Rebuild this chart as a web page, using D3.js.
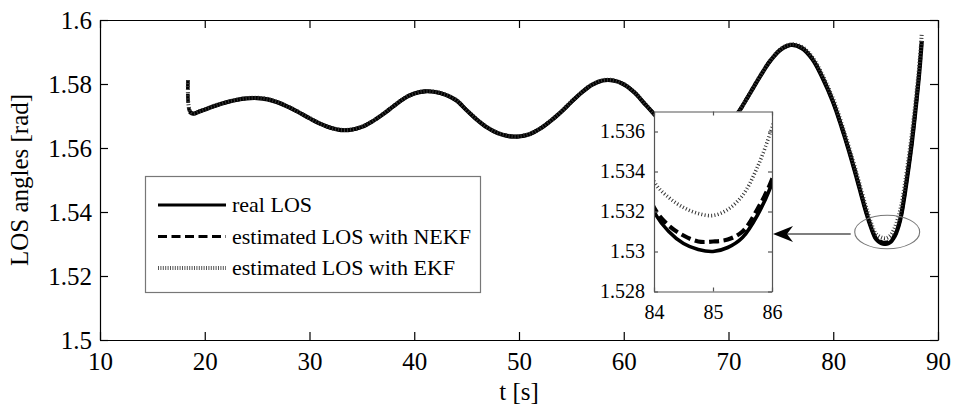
<!DOCTYPE html>
<html>
<head>
<meta charset="utf-8">
<script src="https://cdn.jsdelivr.net/npm/d3@7"></script>
<style>
  html, body { margin: 0; padding: 0; background: #fff; }
  svg text { font-family: "Liberation Serif", "Times New Roman", serif; fill: #000; }
</style>
</head>
<body>
<svg id="chart" width="954" height="412"></svg>
<script>
// Sample times [s]
const timeSec = [18.4, 18.55, 18.9, 19.5, 20, 21, 22, 23, 24, 25, 26, 27, 28, 29,
  30, 31, 32, 33, 34, 35, 36, 37, 38, 39, 40, 41, 42, 43, 44, 45, 46, 47, 48, 49,
  50, 51, 52, 53, 54, 55, 56, 57, 58, 59, 60, 61, 62, 63, 64, 65, 66, 67, 68, 69,
  70, 71, 72, 73, 74, 75, 76, 77, 78, 79, 80, 81, 82, 83, 83.5,
  84, 84.25, 84.5, 84.75, 85, 85.25, 85.5, 85.75, 86, 86.25, 86.5, 86.75, 87, 87.5,
  88, 88.25, 88.45];

// Real line-of-sight angle [rad]
const realLOS = [null, 1.5713, 1.5707, 1.5714, 1.5720, 1.5732, 1.5742, 1.5750, 1.5755, 1.5756,
  1.5752, 1.5742, 1.5728, 1.5711, 1.5693, 1.5676, 1.5663, 1.5656, 1.5657, 1.5666,
  1.5683, 1.5705, 1.5730, 1.5754, 1.5770, 1.5777, 1.5775, 1.5766, 1.5749, 1.5718,
  1.5688, 1.5663, 1.5646, 1.5637, 1.5636, 1.5643, 1.5660, 1.5684, 1.5712, 1.5744,
  1.5774, 1.5798, 1.5811, 1.5811, 1.5799, 1.5774, 1.5738, 1.5702, 1.5660, 1.5626,
  1.5603, 1.5596, 1.5606, 1.5632, 1.5670, 1.5714, 1.5768, 1.5823, 1.5873, 1.5908,
  1.5922, 1.5912, 1.5878, 1.5818, 1.5742, 1.5645, 1.5535, 1.5415, 1.5362,
  1.5320, 1.5310, 1.5304, 1.5301, 1.5300, 1.5302, 1.5307, 1.5318, 1.5334, 1.5358,
  1.5392, 1.5440, 1.5495, 1.5616, 1.5765, 1.5850, 1.5935];

// Estimate from the NEKF [rad]
const nekfLOS = [1.5812, 1.5716, 1.5708, 1.5715, 1.5720, 1.5732, 1.5742, 1.5750, 1.5755, 1.5756,
  1.5752, 1.5742, 1.5728, 1.5711, 1.5693, 1.5676, 1.5663, 1.5656, 1.5657, 1.5666,
  1.5683, 1.5705, 1.5730, 1.5754, 1.5770, 1.5777, 1.5775, 1.5766, 1.5749, 1.5718,
  1.5688, 1.5663, 1.5646, 1.5637, 1.5636, 1.5643, 1.5660, 1.5684, 1.5712, 1.5744,
  1.5774, 1.5798, 1.5811, 1.5811, 1.5799, 1.5774, 1.5738, 1.5702, 1.5660, 1.5626,
  1.5603, 1.5596, 1.5606, 1.5632, 1.5670, 1.5714, 1.5768, 1.5823, 1.5873, 1.5908,
  1.5922, 1.5913, 1.5879, 1.5819, 1.5743, 1.5646, 1.5537, 1.5417, 1.5364,
  1.5322, 1.5313, 1.5308, 1.5305, 1.5305, 1.5306, 1.5310, 1.5321, 1.5336, 1.5360,
  1.5394, 1.5442, 1.5497, 1.5618, 1.5767, 1.5852, 1.5938];

// Estimate from the EKF [rad]
const ekfLOS = [1.5812, 1.5718, 1.5708, 1.5715, 1.5721, 1.5733, 1.5743, 1.5751, 1.5756, 1.5757,
  1.5753, 1.5743, 1.5729, 1.5712, 1.5694, 1.5677, 1.5664, 1.5657, 1.5658, 1.5667,
  1.5684, 1.5706, 1.5731, 1.5755, 1.5771, 1.5778, 1.5776, 1.5767, 1.5750, 1.5719,
  1.5689, 1.5664, 1.5647, 1.5638, 1.5637, 1.5644, 1.5661, 1.5685, 1.5713, 1.5745,
  1.5775, 1.5799, 1.5812, 1.5812, 1.5800, 1.5775, 1.5739, 1.5703, 1.5661, 1.5627,
  1.5604, 1.5597, 1.5607, 1.5633, 1.5671, 1.5715, 1.5769, 1.5824, 1.5874, 1.5910,
  1.5924, 1.5916, 1.5884, 1.5826, 1.5752, 1.5656, 1.5548, 1.5430, 1.5377,
  1.5335, 1.5327, 1.5322, 1.5319, 1.5318, 1.5321, 1.5328, 1.5342, 1.5362, 1.5388,
  1.5422, 1.5469, 1.5524, 1.5644, 1.5790, 1.5872, 1.5957];

const seriesNames = ["real LOS", "estimated LOS with NEKF", "estimated LOS with EKF"];

// Tick values
const xTicks = [10, 20, 30, 40, 50, 60, 70, 80, 90];
const yTicks = [1.5, 1.52, 1.54, 1.56, 1.58, 1.6];
const insetXTicks = [84, 85, 86];
const insetYTicks = [1.528, 1.53, 1.532, 1.534, 1.536];

const xLabel = "t [s]";
const yLabel = "LOS angles [rad]";

// ---------------------------------------------------------------
const svg = d3.select("#chart");
const M = { left: 100, right: 938, top: 20, bottom: 340 };
const IN = { left: 654, right: 772, top: 111.5, bottom: 291.5 };

const x = d3.scaleLinear().domain([10, 90]).range([M.left, M.right]);
const y = d3.scaleLinear().domain([1.5, 1.6]).range([M.bottom, M.top]);
const xi = d3.scaleLinear().domain([84, 86]).range([IN.left, IN.right]);
const yi = d3.scaleLinear().domain([1.528, 1.537]).range([IN.bottom, IN.top]);

const fmt = d => String(+d.toFixed(3));

const rows = timeSec.map((t, i) => ({ t, real: realLOS[i], nekf: nekfLOS[i], ekf: ekfLOS[i] }));

const keys = ["real", "nekf", "ekf"];
const mainStyles = {
  real: { width: 4.2, dash: null, color: "#000" },
  nekf: { width: 3.6, dash: "9,4.5", color: "#000" },
  ekf:  { width: 4.0, dash: "1,2", color: "#3a3a3a" }
};
const insetStyles = {
  real: { width: 3.6, dash: null, color: "#000" },
  nekf: { width: 4.2, dash: "10,4.5", color: "#000" },
  ekf:  { width: 3.6, dash: "1,2.3", color: "#333" }
};

function drawSeries(g, sx, sy, key, st) {
  const line = d3.line()
    .defined(d => d[key] != null)
    .x(d => sx(d.t))
    .y(d => sy(d[key]))
    .curve(d3.curveCatmullRom.alpha(0.5));
  g.append("path")
    .datum(rows)
    .attr("fill", "none")
    .attr("stroke", st.color)
    .attr("stroke-width", st.width)
    .attr("stroke-dasharray", st.dash)
    .attr("stroke-linejoin", "round")
    .attr("d", line);
}

const axisStyle = (g, size, color) => {
  g.selectAll("path.domain").attr("stroke", color).attr("stroke-width", 1.2);
  g.selectAll(".tick line").attr("stroke", color).attr("stroke-width", 1.2);
  g.selectAll(".tick text").style("font-size", size + "px").attr("font-family", null);
};

// ---- main plot ----
const mainG = svg.append("g");
keys.forEach(k => drawSeries(mainG, x, y, k, mainStyles[k]));

svg.append("g").attr("transform", `translate(0,${M.bottom})`)
  .call(d3.axisBottom(x).tickValues(xTicks).tickSize(-8).tickSizeOuter(0).tickPadding(12).tickFormat(d3.format("d")))
  .call(g => axisStyle(g, 25, "#000"));
svg.append("g").attr("transform", `translate(0,${M.top})`)
  .call(d3.axisTop(x).tickValues(xTicks).tickSize(-8).tickSizeOuter(0).tickFormat(""))
  .call(g => axisStyle(g, 25, "#000"));
svg.append("g").attr("transform", `translate(${M.left},0)`)
  .call(d3.axisLeft(y).tickValues(yTicks).tickSize(-8).tickSizeOuter(0).tickPadding(8).tickFormat(fmt))
  .call(g => axisStyle(g, 25, "#000"));
svg.append("g").attr("transform", `translate(${M.right},0)`)
  .call(d3.axisRight(y).tickValues(yTicks).tickSize(-8).tickSizeOuter(0).tickFormat(""))
  .call(g => axisStyle(g, 25, "#000"));

// axis titles
svg.append("text")
  .attr("x", (M.left + M.right) / 2).attr("y", 400)
  .attr("text-anchor", "middle").style("font-size", "25px")
  .text(xLabel);
svg.append("text")
  .attr("transform", `translate(28,${(M.top + M.bottom) / 2}) rotate(-90)`)
  .attr("text-anchor", "middle").style("font-size", "25px")
  .text(yLabel);

// ---- legend ----
const leg = svg.append("g");
leg.append("rect")
  .attr("x", 145.5).attr("y", 176.5).attr("width", 335).attr("height", 116)
  .attr("fill", "#fff").attr("stroke", "#777").attr("stroke-width", 1.2);
keys.forEach((k, i) => {
  const cy = 205 + i * 31.5;
  const st = mainStyles[k];
  leg.append("line")
    .attr("x1", 158).attr("x2", 226).attr("y1", cy).attr("y2", cy)
    .attr("stroke", k === "ekf" ? "#555" : st.color)
    .attr("stroke-width", k === "ekf" ? 4 : 3.2)
    .attr("stroke-dasharray", k === "ekf" ? "1,1.4" : st.dash);
  leg.append("text")
    .attr("x", 232).attr("y", cy + 7)
    .style("font-size", "22px")
    .text(seriesNames[i]);
});

// ---- zoom marker: ellipse and arrow ----
const ell = { cx: x(85.15), cy: y(1.53375), rx: x(88.25) - x(85.15), ry: y(1.5285) - y(1.53375) };
svg.append("ellipse")
  .attr("cx", ell.cx).attr("cy", ell.cy).attr("rx", ell.rx).attr("ry", ell.ry)
  .attr("fill", "none").attr("stroke", "#777").attr("stroke-width", 1.1);

const ay = ell.cy + 2;
const tipX = IN.right + 1;
svg.append("line")
  .attr("x1", ell.cx - ell.rx - 4).attr("x2", tipX + 14).attr("y1", ay).attr("y2", ay)
  .attr("stroke", "#000").attr("stroke-width", 1.1);
svg.append("path")
  .attr("d", `M${tipX},${ay} L${tipX + 20},${ay - 8} L${tipX + 14},${ay} L${tipX + 20},${ay + 8} Z`)
  .attr("fill", "#000");

// ---- inset ----
const ins = svg.append("g");
ins.append("rect")
  .attr("x", IN.left).attr("y", IN.top)
  .attr("width", IN.right - IN.left).attr("height", IN.bottom - IN.top)
  .attr("fill", "#fff");
svg.append("clipPath").attr("id", "insetClip")
  .append("rect")
  .attr("x", IN.left).attr("y", IN.top)
  .attr("width", IN.right - IN.left).attr("height", IN.bottom - IN.top);
const insLines = ins.append("g").attr("clip-path", "url(#insetClip)");
keys.forEach(k => drawSeries(insLines, xi, yi, k, insetStyles[k]));

ins.append("g").attr("transform", `translate(0,${IN.bottom})`)
  .call(d3.axisBottom(xi).tickValues(insetXTicks).tickSize(-4).tickSizeOuter(0).tickPadding(13).tickFormat(d3.format("d")))
  .call(g => axisStyle(g, 20, "#555"));
ins.append("g").attr("transform", `translate(0,${IN.top})`)
  .call(d3.axisTop(xi).tickValues(insetXTicks).tickSize(-4).tickSizeOuter(0).tickFormat(""))
  .call(g => axisStyle(g, 20, "#555"));
ins.append("g").attr("transform", `translate(${IN.left},0)`)
  .call(d3.axisLeft(yi).tickValues(insetYTicks).tickSize(-4).tickSizeOuter(0).tickPadding(9).tickFormat(fmt))
  .call(g => axisStyle(g, 20, "#555"));
ins.append("g").attr("transform", `translate(${IN.right},0)`)
  .call(d3.axisRight(yi).tickValues(insetYTicks).tickSize(-4).tickSizeOuter(0).tickFormat(""))
  .call(g => axisStyle(g, 20, "#555"));
ins.selectAll(".tick text").attr("fill", "#000");
</script>
</body>
</html>
